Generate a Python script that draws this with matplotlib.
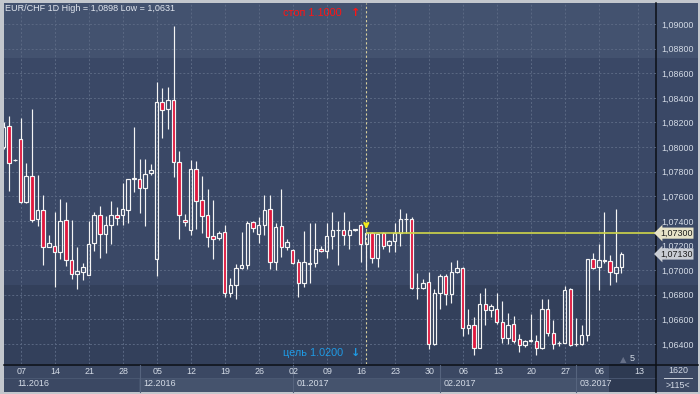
import numpy as np
import matplotlib.pyplot as plt
from matplotlib.patches import Rectangle
from matplotlib.transforms import blended_transform_factory

plt.rcParams['font.family'] = ['Liberation Sans', 'DejaVu Sans']

# EUR/CHF daily bars (index 0 = Fri 04.11.2016), Sunday bars included
opens = [1.08003, 1.08171, 1.07892, 1.08065, 1.07556, 1.07764, 1.07412, 1.07485, 1.07184, 1.07192,
         1.07144, 1.07404, 1.07079, 1.06965, 1.06981, 1.06957, 1.07217, 1.07444, 1.07290, 1.07363,
         1.07444, 1.07444, 1.07485, 1.07737, 1.07737, 1.07664, 1.07786, 1.07087, 1.08363, 1.08306,
         1.08379, 1.07875, 1.07404, 1.07322, 1.07818, 1.07566, 1.07444, 1.07274, 1.07257, 1.07306,
         1.06810, 1.06875, 1.07014, 1.07038, 1.07388, 1.07290, 1.07363, 1.07493, 1.07062, 1.07355,
         1.07184, 1.07160, 1.07062, 1.06892, 1.07050, 1.07054, 1.07168, 1.07152, 1.07274, 1.07323,
         1.07323, 1.07282, 1.07323, 1.07363, 1.07209, 1.07298, 1.07095, 1.07298, 1.07201, 1.07233,
         1.07298, 1.07412, 1.07412, 1.06851, 1.06851, 1.06900, 1.06396, 1.06810, 1.06948, 1.06802,
         1.06986, 1.07014, 1.06526, 1.06550, 1.06363, 1.06721, 1.06672, 1.06680, 1.06575, 1.06445,
         1.06558, 1.06436, 1.06388, 1.06426, 1.06426, 1.06363, 1.06680, 1.06485, 1.06404, 1.06404,
         1.06843, 1.06396, 1.06396, 1.06469, 1.07087, 1.07022, 1.07079, 1.07070, 1.06973, 1.07022]
highs = [1.08200, 1.08252, 1.07900, 1.08236, 1.07867, 1.08309, 1.07772, 1.07610, 1.07285, 1.07472,
         1.07577, 1.07553, 1.07406, 1.07187, 1.07060, 1.07401, 1.07472, 1.07520, 1.07439, 1.07561,
         1.07512, 1.07710, 1.07737, 1.08163, 1.07900, 1.07902, 1.07862, 1.08528, 1.08480, 1.08488,
         1.08980, 1.07967, 1.07453, 1.07892, 1.07883, 1.07767, 1.07659, 1.07569, 1.07320, 1.07366,
         1.06932, 1.07046, 1.07306, 1.07396, 1.07396, 1.07428, 1.07610, 1.07610, 1.07379, 1.07658,
         1.07249, 1.07168, 1.07087, 1.07314, 1.07379, 1.07379, 1.07193, 1.07379, 1.07469, 1.07396,
         1.07469, 1.07396, 1.07336, 1.07371, 1.07314, 1.07306, 1.07290, 1.07306, 1.07241, 1.07379,
         1.07493, 1.07461, 1.07428, 1.06973, 1.06924, 1.06986, 1.06846, 1.06965, 1.06965, 1.07068,
         1.07081, 1.07022, 1.06680, 1.06621, 1.06810, 1.06851, 1.06721, 1.06810, 1.06745, 1.06648,
         1.06623, 1.06477, 1.06434, 1.06639, 1.06469, 1.06762, 1.06762, 1.06591, 1.06423, 1.06867,
         1.06851, 1.06611, 1.06550, 1.07087, 1.07141, 1.07211, 1.07469, 1.07122, 1.07493, 1.07143]
lows = [1.07980, 1.07645, 1.07888, 1.07542, 1.07542, 1.07388, 1.07361, 1.07041, 1.07184, 1.06865,
        1.07087, 1.07035, 1.06930, 1.06848, 1.06916, 1.06957, 1.07152, 1.07098, 1.07141, 1.07214,
        1.07363, 1.07363, 1.07379, 1.07637, 1.07466, 1.07361, 1.07770, 1.06954, 1.08076, 1.08149,
        1.07759, 1.07249, 1.07361, 1.07282, 1.07336, 1.07298, 1.07184, 1.07092, 1.07244, 1.06783,
        1.06783, 1.06767, 1.07005, 1.07005, 1.07306, 1.07222, 1.07282, 1.07005, 1.06997, 1.07103,
        1.07160, 1.07046, 1.06783, 1.06859, 1.06892, 1.07022, 1.07144, 1.07095, 1.07168, 1.07038,
        1.07201, 1.07168, 1.07320, 1.07062, 1.06997, 1.07054, 1.07022, 1.07168, 1.07144, 1.07144,
        1.07193, 1.07298, 1.06843, 1.06762, 1.06843, 1.06354, 1.06390, 1.06680, 1.06716, 1.06735,
        1.06973, 1.06464, 1.06477, 1.06310, 1.06363, 1.06550, 1.06620, 1.06558, 1.06404, 1.06396,
        1.06404, 1.06336, 1.06371, 1.06415, 1.06312, 1.06360, 1.06461, 1.06355, 1.06379, 1.06404,
        1.06379, 1.06379, 1.06390, 1.06423, 1.07005, 1.06835, 1.07054, 1.06875, 1.06900, 1.06973]
closes = [1.08160, 1.07867, 1.07895, 1.07556, 1.07764, 1.07404, 1.07485, 1.07184, 1.07217, 1.07144,
          1.07396, 1.07079, 1.06965, 1.06989, 1.07022, 1.07209, 1.07444, 1.07290, 1.07363, 1.07444,
          1.07420, 1.07493, 1.07737, 1.07748, 1.07664, 1.07778, 1.07810, 1.08363, 1.08298, 1.08379,
          1.07875, 1.07444, 1.07388, 1.07818, 1.07558, 1.07436, 1.07266, 1.07249, 1.07298, 1.06816,
          1.06875, 1.07014, 1.07038, 1.07379, 1.07339, 1.07363, 1.07485, 1.07062, 1.07347, 1.07184,
          1.07225, 1.07054, 1.06892, 1.07062, 1.07058, 1.07168, 1.07152, 1.07274, 1.07323, 1.07328,
          1.07282, 1.07323, 1.07331, 1.07209, 1.07298, 1.07095, 1.07290, 1.07193, 1.07233, 1.07298,
          1.07412, 1.07415, 1.06851, 1.06855, 1.06892, 1.06396, 1.06810, 1.06948, 1.06802, 1.06981,
          1.07014, 1.06526, 1.06550, 1.06363, 1.06721, 1.06672, 1.06705, 1.06575, 1.06445, 1.06550,
          1.06426, 1.06388, 1.06420, 1.06430, 1.06363, 1.06680, 1.06485, 1.06396, 1.06408, 1.06835,
          1.06388, 1.06400, 1.06469, 1.07087, 1.07014, 1.07079, 1.07070, 1.06981, 1.07022, 1.07130]

# week starts (bar index) and their day labels
day_ticks = [3, 9, 15, 21, 27, 33, 39, 45, 51, 57, 63, 69, 75, 81, 87, 93, 99, 105, 112]
day_labels = ['07', '14', '21', '28', '05', '12', '19', '26', '02', '09', '16', '23', '30',
              '06', '13', '20', '27', '06', '13']
month_starts = [0, 24, 51, 77, 101]
month_labels = ['11.2016', '12.2016', '01.2017', '02.2017', '03.2017']
price_ticks = np.arange(1.064, 1.0901, 0.002)
n_visible = 115
n_total = 1620
target_line = 1.0730
last_price = closes[-1]
signal_bar = 64

BG_TOP, BG_MID, BG_LOW = '#43526f', '#3a4866', '#33405b'
RED = '#e0173d'
WHITE = '#f4f4f4'
TXT = '#d4dbe6'

fig = plt.figure(figsize=(7, 3.94), dpi=100)
fig.patch.set_facecolor('#c3c7cd')

# background layer in pixel coordinates
bg = fig.add_axes([0, 0, 1, 1], zorder=0)
bg.set_xlim(0, 700)
bg.set_ylim(394, 0)
bg.axis('off')
bg.add_patch(Rectangle((3.5, 3), 694.5, 55, color=BG_TOP, lw=0))
bg.add_patch(Rectangle((3.5, 58), 694.5, 227, color=BG_MID, lw=0))
bg.add_patch(Rectangle((3.5, 285), 694.5, 79, color=BG_LOW, lw=0))
bg.add_patch(Rectangle((3.5, 364), 694.5, 28, color='#3b4863', lw=0))
bg.add_patch(Rectangle((139, 378), 517, 14, color='#45536d', lw=0))
bg.plot([3.5, 656], [378, 378], color='#4c5a74', lw=0.6)
bg.add_patch(Rectangle((609, 364), 47, 28, color='#2e3a52', lw=0))
bg.plot([656, 656], [3, 392], color='#0c0f16', lw=1.1)
bg.plot([3.5, 698], [364.5, 364.5], color='#0c0f16', lw=1.1)
bg.text(678, 370.5, str(n_total), color=TXT, fontsize=6.4, ha='center', va='center')
bg.plot([664, 692], [377.5, 377.5], color='#c8ced8', lw=0.7)
bg.text(678, 385, '>%d<' % n_visible, color=TXT, fontsize=6.4, ha='center', va='center')

# main chart
ax = fig.add_axes([3.5 / 700, 30 / 394, 652.5 / 700, 361 / 394], zorder=1)
ax.patch.set_visible(False)
ax.set_xlim(0, 115.1)
ax.set_ylim(1.06236, 1.09171)
for s in ax.spines.values():
    s.set_visible(False)

ax.set_xticks(day_ticks)
ax.set_yticks(price_ticks)
ax.grid(True, color='#5a6883', linestyle=(0, (2, 2)), lw=0.7)
ax.set_axisbelow(True)
ax.tick_params(axis='x', length=0, labelbottom=False)
ax.tick_params(axis='y', length=0, right=True, left=False, labelright=True, labelleft=False,
               labelsize=6.4, labelcolor=TXT, pad=4)
ax.set_yticklabels([f'{v:.5f}'.replace('.', ',') for v in price_ticks])

# candles
for i in range(len(opens)):
    o, h, l, c = opens[i], highs[i], lows[i], closes[i]
    top, bot = max(o, c), min(o, c)
    ax.vlines(i, top, h, color=WHITE, lw=0.85, zorder=3)
    ax.vlines(i, l, bot, color=WHITE, lw=0.85, zorder=3)
    ax.add_patch(Rectangle((i - 0.31, bot), 0.62, max(top - bot, 0.00004),
                           facecolor=RED if c < o else 'none', edgecolor=WHITE, lw=0.85, zorder=4))

# signal markers
ax.axvline(signal_bar, color='#d8cf9c', linestyle=(0, (2, 2)), lw=0.8, zorder=2)
ax.hlines(target_line, signal_bar, 115.1, color='#cfd64a', lw=1.2, zorder=5)
ax.annotate('', xy=(signal_bar, target_line + 0.00008), xytext=(signal_bar, target_line + 0.0010),
            arrowprops=dict(arrowstyle='->', color='#f2ea1c', lw=1.6, mutation_scale=7), zorder=6)

hi_txt = f'{max(highs):.4f}'.replace('.', ',')
lo_txt = f'{min(lows):.4f}'.replace('.', ',')
ax.text(0.0023, 0.986, f'EUR/CHF 1D High = {hi_txt} Low = {lo_txt}',
        transform=ax.transAxes, color='#e2e7ef', fontsize=6.5, va='center', ha='left')
ax.text(0.428, 0.972, 'стоп 1.1000', transform=ax.transAxes, color='#ff1414', fontsize=7.8,
        va='center', ha='left', zorder=8)
ax.text(0.539, 0.972, '↑', transform=ax.transAxes, color='#ff1414', fontsize=8, fontweight='bold',
        va='center', ha='center', family='DejaVu Sans', zorder=8)
ax.text(0.428, 0.030, 'цель 1.0200', transform=ax.transAxes, color='#1f9ae4', fontsize=7.8,
        va='center', ha='left', zorder=8)
ax.text(0.539, 0.030, '↓', transform=ax.transAxes, color='#1f9ae4', fontsize=8, fontweight='bold',
        va='center', ha='center', family='DejaVu Sans', zorder=8)

# price tags on the right scale
tr = blended_transform_factory(ax.transAxes, ax.transData)
ax.text(1.006, target_line, f'{target_line:.5f}'.replace('.', ','), transform=tr, color='#1c1c1c',
        fontsize=6.4, va='center', ha='left', zorder=7,
        bbox=dict(boxstyle='larrow,pad=0.12', fc='#e6e2c8', ec='none'))
ax.text(1.006, last_price, f'{last_price:.5f}'.replace('.', ','), transform=tr, color='#1c1c1c',
        fontsize=6.4, va='center', ha='left', zorder=7,
        bbox=dict(boxstyle='larrow,pad=0.12', fc='#c9cdd4', ec='none'))

# "bars ahead" marker
ax.text(0.950, 0.012, '▲', transform=ax.transAxes, color='#667088', fontsize=6, ha='center', va='center',
        family='DejaVu Sans')
ax.text(0.964, 0.015, '5', transform=ax.transAxes, color=TXT, fontsize=6.5, ha='center', va='center')

# time scale
bt = blended_transform_factory(ax.transData, ax.transAxes)
for t, lab in zip(day_ticks, day_labels):
    ax.text(t + 0.2, -0.022, lab, transform=bt, color=TXT, fontsize=6.4, ha='center', va='center',
            clip_on=False)
for m, lab in zip(month_starts, month_labels):
    if m > 0:
        ax.plot([m, m], [-0.003, -0.078], transform=bt, color='#56647e', lw=0.8, clip_on=False)
    ax.text(max(m, 1.7) + 0.7, -0.055, lab, transform=bt, color=TXT, fontsize=6.5, ha='left',
            va='center', clip_on=False)

fig.savefig('out.png', dpi=100, facecolor=fig.get_facecolor())
